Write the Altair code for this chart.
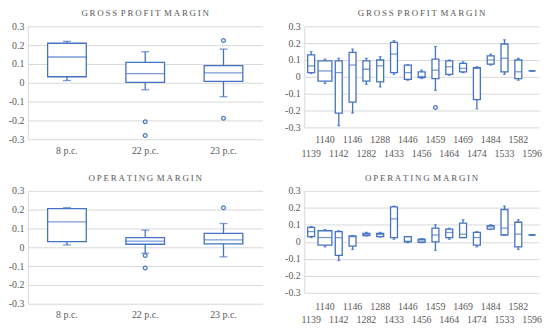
import altair as alt
import pandas as pd

BLUE = "#4472C4"
TXT = "#595959"
GRID = "#D9D9D9"
FONT = "Liberation Serif"

# ---------------- data ----------------
left_cats = ["8 p.c.", "22 p.c.", "23 p.c."]

gpm_l_lo = [0.012, -0.037, -0.074]
gpm_l_q1 = [0.032, 0.002, 0.007]
gpm_l_med = [0.137, 0.049, 0.053]
gpm_l_q3 = [0.210, 0.109, 0.091]
gpm_l_hi = [0.220, 0.165, 0.179]
gpm_l_out_cat = ["22 p.c.", "22 p.c.", "23 p.c.", "23 p.c."]
gpm_l_out_val = [-0.207, -0.280, 0.225, -0.188]

op_l_lo = [0.012, -0.032, -0.051]
op_l_q1 = [0.030, 0.016, 0.018]
op_l_med = [0.135, 0.033, 0.039]
op_l_q3 = [0.205, 0.051, 0.074]
op_l_hi = [0.210, 0.091, 0.126]
op_l_out_cat = ["22 p.c.", "22 p.c.", "23 p.c."]
op_l_out_val = [-0.044, -0.110, 0.210]

right_cats = ["1139", "1140", "1142", "1146", "1282", "1288", "1433", "1446", "1456",
              "1459", "1464", "1469", "1474", "1484", "1533", "1582", "1596"]

gpm_r_lo = [0.020, -0.040, -0.290, -0.215, -0.045, -0.060, 0.015, -0.020, -0.010,
            -0.080, 0.010, 0.025, -0.190, 0.070, 0.015, -0.020, 0.035]
gpm_r_q1 = [0.025, -0.025, -0.215, -0.150, -0.025, -0.030, 0.025, -0.015, -0.005,
            -0.010, 0.015, 0.030, -0.135, 0.075, 0.030, -0.010, 0.035]
gpm_r_med = [0.065, 0.035, 0.025, 0.070, 0.045, 0.065, 0.135, 0.025, 0.002,
             0.040, 0.060, 0.050, 0.050, 0.100, 0.110, 0.030, 0.035]
gpm_r_q3 = [0.130, 0.095, 0.095, 0.145, 0.095, 0.100, 0.205, 0.070, 0.030,
            0.105, 0.095, 0.080, 0.055, 0.125, 0.195, 0.100, 0.035]
gpm_r_hi = [0.150, 0.105, 0.110, 0.165, 0.110, 0.120, 0.215, 0.072, 0.040,
            0.180, 0.100, 0.090, 0.060, 0.135, 0.220, 0.110, 0.035]
gpm_r_out_cat = ["1459"]
gpm_r_out_val = [-0.182]

op_r_lo = [0.025, -0.030, -0.110, -0.045, 0.035, 0.028, 0.015, -0.005, -0.005,
           -0.050, 0.015, 0.025, -0.030, 0.072, 0.040, -0.045, 0.040]
op_r_q1 = [0.030, -0.020, -0.080, -0.025, 0.037, 0.030, 0.025, 0.000, -0.003,
           0.000, 0.025, 0.025, -0.020, 0.075, 0.040, -0.030, 0.040]
op_r_med = [0.060, 0.025, 0.025, 0.030, 0.045, 0.043, 0.135, 0.003, 0.005,
            0.040, 0.055, 0.045, 0.025, 0.088, 0.080, 0.045, 0.040]
op_r_q3 = [0.085, 0.065, 0.060, 0.035, 0.050, 0.050, 0.205, 0.030, 0.015,
           0.080, 0.075, 0.110, 0.055, 0.095, 0.190, 0.115, 0.040]
op_r_hi = [0.090, 0.072, 0.065, 0.037, 0.055, 0.055, 0.210, 0.030, 0.018,
           0.100, 0.080, 0.130, 0.060, 0.100, 0.210, 0.130, 0.040]
op_r_out_cat = []
op_r_out_val = []

y_ticks = [-0.3, -0.2, -0.1, 0.0, 0.1, 0.2, 0.3]


def spaced(title):
    return "\u2009\u2009".join("\u2009".join(w) for w in title.split(" "))


def panel(cats, lo, q1, med, q3, hi, out_cat, out_val, title, width, height,
          box_w, cap_w, staggered, lab_pad=7, lab_lh=14.5):
    df = pd.DataFrame(dict(cat=cats, lo=lo, q1=q1, med=med, q3=q3, hi=hi))
    odf = pd.DataFrame(dict(cat=out_cat, val=out_val))

    if staggered:
        upper = ",".join("'%s'" % c for c in cats[1::2])
        label_expr = ("indexof([%s], datum.label) >= 0 ? [datum.label, ''] : ['', datum.label]" % upper)
        xaxis = alt.Axis(title=None, labelAngle=0, domain=False, ticks=False,
                         labelExpr=label_expr, labelPadding=lab_pad, labelLineHeight=lab_lh,
                         labelBaseline="top", labelFont=FONT, labelFontSize=10,
                         labelColor=TXT, labelOverlap=False)
    else:
        xaxis = alt.Axis(title=None, labelAngle=0, domain=False, ticks=False,
                         labelPadding=6, labelFont=FONT, labelFontSize=10,
                         labelColor=TXT)

    xscale = alt.Scale(domain=cats, paddingInner=0, paddingOuter=0)
    x = alt.X("cat:N", sort=cats, scale=xscale, axis=xaxis)

    yscale = alt.Scale(domain=[-0.3, 0.3], nice=False, zero=False)
    yaxis = alt.Axis(title=None, values=y_ticks, grid=True, gridColor=GRID,
                     domain=True, domainColor=GRID, ticks=False, labelPadding=4,
                     labelFont=FONT, labelFontSize=10, labelColor=TXT,
                     labelExpr="abs(datum.value) < 1e-9 ? '0' : (datum.value < 0 ? '-' + format(-datum.value, '.1f') : format(datum.value, '.1f'))")

    def Y(f):
        return alt.Y(f, scale=yscale, axis=yaxis)

    base = alt.Chart(df)
    whisker = base.mark_rule(color=BLUE, strokeWidth=1.3).encode(
        x=x, y=Y("lo:Q"), y2="hi:Q")
    if staggered:
        bsize = alt.condition("datum.cat == '1140'", alt.value(box_w * 2), alt.value(box_w))
    else:
        bsize = alt.value(box_w)
    box = base.mark_bar(fill="white", stroke=BLUE, strokeWidth=1.3).encode(
        x=x, y=Y("q1:Q"), y2="q3:Q", size=bsize)
    median = base.mark_tick(color=BLUE, thickness=1.3).encode(
        x=x, y=Y("med:Q"), size=bsize)
    cap_lo = base.mark_tick(color=BLUE, thickness=1.3, size=cap_w).encode(
        x=x, y=Y("lo:Q"))
    cap_hi = base.mark_tick(color=BLUE, thickness=1.3, size=cap_w).encode(
        x=x, y=Y("hi:Q"))
    layers = [whisker, box, median, cap_lo, cap_hi]
    if len(out_cat):
        pts = alt.Chart(odf).mark_point(shape="circle", filled=False, color=BLUE,
                                        size=14, strokeWidth=1.2, opacity=1).encode(
            x=x, y=Y("val:Q"))
        layers.append(pts)

    return alt.layer(*layers).properties(
        width=width, height=height,
        title=alt.TitleParams(spaced(title), font=FONT, fontSize=9, fontWeight="normal",
                              color=TXT, offset=3, anchor="middle"))


tl = panel(left_cats, gpm_l_lo, gpm_l_q1, gpm_l_med, gpm_l_q3, gpm_l_hi,
           gpm_l_out_cat, gpm_l_out_val, "GROSS PROFIT MARGIN", 237, 114, 39, 8, False)
tr = panel(right_cats, gpm_r_lo, gpm_r_q1, gpm_r_med, gpm_r_q3, gpm_r_hi,
           gpm_r_out_cat, gpm_r_out_val, "GROSS PROFIT MARGIN", 237, 102, 7, 3, True)
bl = panel(left_cats, op_l_lo, op_l_q1, op_l_med, op_l_q3, op_l_hi,
           op_l_out_cat, op_l_out_val, "OPERATING MARGIN", 237, 114, 39, 8, False)
br = panel(right_cats, op_r_lo, op_r_q1, op_r_med, op_r_q3, op_r_hi,
           op_r_out_cat, op_r_out_val, "OPERATING MARGIN", 237, 103, 7, 3, True,
           lab_pad=9, lab_lh=12.5)

chart = alt.vconcat(
    alt.hconcat(tl, tr, spacing=22),
    alt.hconcat(bl, br, spacing=22),
    spacing=15,
).properties(padding=0, background="white").configure_view(stroke=None)

chart.save("out.html", embed_options={"renderer": "svg", "actions": False})
